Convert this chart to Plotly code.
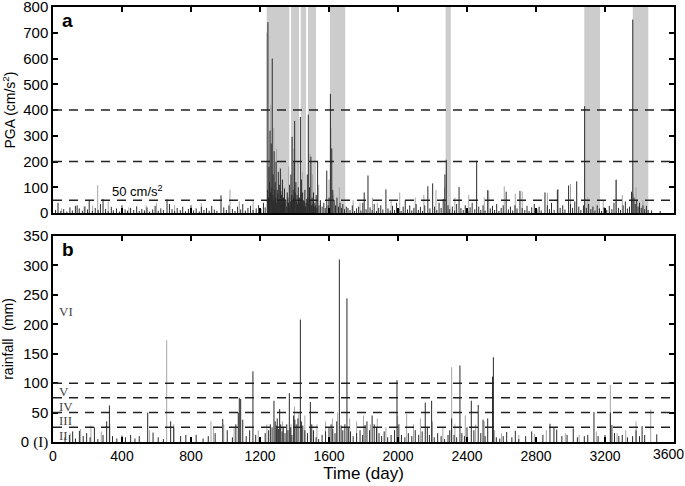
import plotly.graph_objects as go

# ---------------- data ----------------
time_ticks = [0, 400, 800, 1200, 1600, 2000, 2400, 2800, 3200, 3600]
time_ticktext = ["0", "400", "800", "1200", "1600", "2000", "2400", "2800", "3200", ""]
last_time_label = "3600"
pga_ticks = [0, 100, 200, 300, 400, 500, 600, 700, 800]
rain_ticks = [0, 50, 100, 150, 200, 250, 300, 350]
rain_ticktext = ["0 <span style='font-family:Liberation Serif'>(I)</span>", "50", "100", "150", "200", "250", "300", "350"]

pga_thresholds = [50, 200, 400]
rain_thresholds = [25, 50, 75, 100]
rain_classes = ["II", "III", "IV", "V", "VI"]
rain_class_y = [11, 36, 61, 86, 222]

# shaded periods (day start, day end)
shaded_periods = [(1239, 1370), (1380, 1426), (1436, 1467), (1478, 1525),
                  (1606, 1694), (2276, 2306), (3080, 3171), (3361, 3451)]

# PGA spikes (day, cm/s^2)
pga_dark = [
    (15, 12), (29, 40), (45, 8), (62, 15), (80, 6), (98, 22), (112, 10), (130, 28), (140, 30), (152, 18),
    (170, 9), (185, 26), (200, 14), (210, 51), (228, 8), (245, 20), (262, 12), (275, 35), (290, 55), (305, 16),
    (320, 7), (338, 24), (350, 11), (368, 18), (385, 6), (400, 30), (418, 14), (432, 9), (450, 20), (468, 12),
    (485, 26), (500, 8), (515, 16), (530, 10), (545, 22), (560, 6), (578, 14), (592, 28), (610, 9), (625, 18),
    (640, 12), (661, 53), (675, 35), (690, 15), (705, 8), (720, 20), (738, 11), (752, 25), (768, 7), (785, 16),
    (800, 30), (815, 10), (830, 18), (848, 6), (860, 24), (875, 12), (890, 20), (905, 9), (920, 28), (935, 14),
    (950, 8), (974, 69), (990, 22), (1005, 12), (1020, 30), (1040, 16), (1055, 8), (1070, 25), (1088, 14),
    (1100, 35), (1115, 10), (1130, 20), (1145, 28), (1160, 12), (1178, 18), (1192, 30), (1205, 15), (1220, 40),
    (1230, 22),
    (1244, 90), (1246, 741), (1249, 60), (1252, 180), (1255, 120), (1258, 320), (1262, 80), (1265, 270),
    (1268, 100), (1271, 600), (1274, 70), (1276, 150), (1279, 50), (1282, 240), (1285, 90), (1288, 120),
    (1291, 60), (1293, 200), (1297, 40), (1300, 90), (1303, 75), (1306, 160), (1309, 55), (1312, 110),
    (1315, 45), (1318, 173), (1321, 85), (1324, 70), (1327, 35), (1330, 130), (1333, 50), (1336, 60),
    (1339, 30), (1342, 95), (1346, 45), (1350, 50), (1355, 25), (1358, 80), (1362, 60), (1365, 40),
    (1369, 30), (1372, 110), (1376, 45), (1379, 150), (1383, 70), (1386, 296), (1389, 50), (1392, 90),
    (1395, 60), (1398, 200), (1401, 358), (1404, 80), (1408, 120), (1411, 45), (1415, 70), (1418, 35),
    (1422, 100), (1425, 55), (1428, 60), (1431, 40), (1434, 373), (1437, 75), (1440, 130), (1444, 50),
    (1447, 80), (1450, 30), (1453, 50), (1457, 45), (1460, 90), (1464, 25), (1467, 40), (1471, 55),
    (1474, 150), (1477, 60), (1480, 382), (1484, 40), (1487, 100), (1491, 50), (1495, 219), (1498, 30),
    (1502, 60), (1506, 35), (1510, 80), (1514, 25), (1518, 40), (1522, 30), (1526, 70), (1530, 20),
    (1534, 200), (1542, 30), (1550, 50), (1560, 25), (1570, 40), (1578, 20), (1587, 165), (1595, 30),
    (1600, 60), (1608, 463), (1616, 251), (1622, 90), (1630, 50), (1638, 30), (1646, 60), (1655, 25),
    (1664, 40), (1672, 20), (1680, 35), (1690, 15), (1700, 25),
    (1710, 20), (1722, 12), (1735, 30), (1748, 8), (1760, 18), (1772, 25), (1785, 10), (1796, 40), (1804, 80),
    (1815, 15), (1826, 146), (1838, 22), (1850, 12), (1862, 35), (1875, 8), (1888, 20), (1900, 30), (1912, 14),
    (1930, 92), (1942, 18), (1955, 10), (1968, 28), (1980, 12), (1992, 40), (2005, 16), (2018, 8), (2030, 25),
    (2042, 50), (2055, 14), (2068, 30), (2080, 10), (2092, 20), (2105, 35), (2118, 12), (2130, 24), (2142, 8),
    (2155, 30), (2173, 104), (2185, 18), (2201, 115), (2212, 25), (2225, 12), (2238, 40), (2250, 20), (2262, 55),
    (2272, 150), (2280, 207), (2290, 30), (2300, 15), (2315, 25), (2328, 10), (2340, 35), (2354, 101), (2365, 20),
    (2378, 12), (2390, 30), (2405, 8), (2418, 22), (2430, 40), (2445, 15), (2456, 203), (2468, 25), (2480, 12),
    (2493, 30), (2505, 10), (2520, 89), (2535, 18), (2548, 28), (2560, 12), (2572, 35), (2585, 8), (2598, 20),
    (2610, 30), (2627, 83), (2640, 14), (2652, 25), (2665, 10), (2678, 30), (2690, 18), (2707, 86), (2720, 20),
    (2735, 12), (2748, 28), (2760, 8), (2775, 22), (2790, 35), (2805, 14), (2818, 25), (2830, 10), (2852, 80),
    (2866, 30), (2878, 15), (2890, 40), (2905, 12), (2924, 91), (2940, 20), (2955, 30), (2968, 14), (2989, 107),
    (3000, 35), (3012, 20), (3025, 45), (3036, 123), (3048, 25), (3060, 12), (3075, 30), (3082, 415), (3092, 20),
    (3105, 35), (3118, 15), (3130, 25), (3142, 10), (3155, 30), (3168, 18), (3180, 8), (3195, 22), (3210, 12),
    (3225, 28), (3240, 15), (3252, 40), (3264, 129), (3278, 20), (3290, 12), (3305, 30), (3318, 45), (3330, 18),
    (3342, 25), (3354, 83), (3361, 751), (3368, 60), (3375, 35), (3384, 50), (3392, 25), (3400, 40), (3410, 20),
    (3420, 30), (3430, 15), (3440, 28), (3450, 12), (3470, 10), (3520, 8),
]
pga_light = [
    (50, 18), (180, 25), (230, 30), (259, 108), (320, 45), (440, 22), (540, 30), (600, 40), (705, 30),
    (860, 38), (1026, 91), (1080, 45), (1160, 50),
    (1240, 700), (1262, 420), (1280, 330), (1296, 250), (1320, 150), (1340, 100), (1366, 180), (1395, 250),
    (1420, 200), (1445, 160), (1490, 230), (1505, 150), (1540, 110), (1600, 130), (1612, 330), (1625, 70),
    (1660, 100),
    (1740, 50), (1780, 40), (1852, 60), (1880, 40), (1960, 50), (2010, 80), (2100, 60), (2150, 70), (2220, 90),
    (2270, 100), (2330, 60), (2410, 70), (2500, 60), (2526, 88), (2616, 104), (2680, 75), (2720, 84), (2866, 79),
    (2930, 92), (3000, 113), (3100, 60), (3190, 50), (3266, 130), (3300, 70), (3364, 75), (3380, 100), (3420, 50),
]

# rainfall spikes (day, mm)
rain_dark = [
    (70, 8), (95, 12), (114, 18), (130, 6), (153, 19), (175, 10), (195, 15), (215, 8), (240, 25), (260, 5),
    (290, 12), (311, 35), (327, 62), (345, 10), (370, 6), (400, 11), (420, 8), (450, 12), (475, 6), (500, 10),
    (549, 50), (580, 16), (610, 8), (640, 5), (682, 35), (700, 24), (740, 10), (770, 12), (800, 8), (830, 12),
    (870, 6), (900, 10), (940, 15), (984, 39), (1010, 20), (1040, 8), (1060, 30), (1074, 50), (1080, 75),
    (1088, 73), (1100, 38), (1120, 10), (1140, 20), (1159, 120), (1175, 12), (1200, 8), (1230, 15), (1250, 20),
    (1260, 30), (1270, 25), (1281, 70), (1288, 35), (1295, 28), (1300, 40), (1308, 22), (1314, 56), (1320, 30),
    (1328, 18), (1335, 25), (1345, 15), (1355, 30), (1362, 20), (1370, 83), (1378, 25), (1385, 12), (1395, 45),
    (1402, 38), (1410, 30), (1420, 40), (1434, 208), (1440, 35), (1448, 28), (1460, 20), (1475, 15), (1492, 68),
    (1500, 30), (1510, 20), (1525, 8), (1540, 5), (1560, 12), (1580, 18), (1600, 25), (1612, 30), (1622, 22),
    (1635, 15), (1645, 35), (1660, 310), (1670, 28), (1680, 20), (1692, 30), (1704, 244), (1712, 25), (1725, 18),
    (1740, 10), (1760, 15), (1780, 20), (1795, 12), (1809, 29), (1820, 35), (1835, 20), (1850, 45), (1862, 30),
    (1875, 25), (1890, 15), (1905, 10), (1920, 18), (1940, 8), (1960, 12), (1980, 20), (1994, 105), (2005, 30),
    (2020, 12), (2040, 8), (2060, 15), (2080, 10), (2100, 20), (2120, 12), (2140, 18), (2158, 67), (2170, 25),
    (2182, 12), (2195, 70), (2210, 8), (2230, 15), (2250, 10), (2270, 5), (2290, 12), (2300, 20), (2311, 40),
    (2325, 12), (2340, 8), (2359, 130), (2370, 15), (2385, 10), (2400, 25), (2425, 70), (2440, 20), (2465, 63),
    (2480, 15), (2493, 38), (2505, 10), (2520, 40), (2548, 111), (2553, 144), (2570, 8), (2590, 6), (2610, 10),
    (2630, 17), (2660, 8), (2680, 19), (2700, 5), (2740, 10), (2775, 18), (2800, 8), (2840, 12), (2881, 31),
    (2904, 24), (2920, 21), (2950, 10), (2980, 12), (3016, 23), (3040, 8), (3080, 10), (3100, 12), (3136, 51),
    (3160, 10), (3200, 12), (3231, 50), (3240, 29), (3255, 15), (3280, 10), (3300, 12), (3330, 8), (3360, 10),
    (3380, 20), (3400, 10), (3415, 27), (3430, 12), (3500, 13),
]
rain_light = [
    (100, 15), (160, 22), (220, 28), (280, 18), (330, 30), (560, 20), (659, 173), (700, 30), (916, 35), (930, 25),
    (990, 30), (1050, 25), (1190, 20), (1240, 30), (1300, 25), (1330, 35), (1380, 30), (1400, 60), (1425, 50),
    (1460, 45), (1530, 30), (1580, 35), (1620, 40), (1650, 50), (1720, 40), (1760, 35), (1800, 45), (1840, 30),
    (1880, 40), (1930, 25), (1998, 45), (2050, 48), (2090, 30), (2130, 40), (2200, 35), (2260, 25), (2311, 127),
    (2330, 30), (2390, 45), (2450, 30), (2500, 35), (2560, 20), (2600, 15), (2700, 12), (2790, 14), (2860, 20),
    (2970, 15), (3050, 12), (3150, 18), (3231, 97), (3270, 15), (3320, 20), (3380, 35), (3465, 55),
]


def stems(pairs):
    xs, ys = [], []
    for d, v in pairs:
        xs += [d, d, None]
        ys += [0, v, None]
    return xs, ys


DARK = "#2a2a2a"
LIGHT = "#a6a6a6"
FONT = "Liberation Sans"

fig = go.Figure()
for pairs, color, xa, ya in [(pga_light, LIGHT, "x", "y"), (pga_dark, DARK, "x", "y"),
                             (rain_light, LIGHT, "x2", "y2"), (rain_dark, DARK, "x2", "y2")]:
    xs, ys = stems(pairs)
    fig.add_trace(go.Scatter(x=xs, y=ys, mode="lines", line=dict(color=color, width=1),
                             xaxis=xa, yaxis=ya, hoverinfo="skip", showlegend=False))

shapes = []
for d0, d1 in shaded_periods:
    shapes.append(dict(type="rect", xref="x", yref="y domain", x0=d0, x1=d1, y0=0, y1=1,
                       fillcolor="#cccccc", line=dict(width=0), layer="below"))
for t in pga_thresholds:
    shapes.append(dict(type="line", xref="x domain", yref="y", x0=0, x1=1, y0=t, y1=t,
                       line=dict(color="#222222", width=1.5, dash="9px,7px"), layer="above"))
for t in rain_thresholds:
    shapes.append(dict(type="line", xref="x2 domain", yref="y2", x0=0, x1=1, y0=t, y1=t,
                       line=dict(color="#222222", width=1.5, dash="9px,7px"), layer="above"))

annotations = [
    dict(text="<b>a</b>", xref="x domain", yref="y domain", x=0.012, y=0.995, xanchor="left", yanchor="top",
         showarrow=False, font=dict(family=FONT, size=19, color="black")),
    dict(text="<b>b</b>", xref="x2 domain", yref="y2 domain", x=0.012, y=0.995, xanchor="left", yanchor="top",
         showarrow=False, font=dict(family=FONT, size=19, color="black")),
    dict(text="50 cm/s<sup>2</sup>", xref="x", yref="y", x=490, y=87, showarrow=False,
         font=dict(family=FONT, size=13, color="black")),
    dict(text=last_time_label, xref="x2", yref="y2 domain", x=3600, y=0, xanchor="right", yanchor="top",
         xshift=12, yshift=-2, showarrow=False, font=dict(family=FONT, size=14, color="black")),
]
for lab, yv in zip(rain_classes, rain_class_y):
    annotations.append(dict(text=lab, xref="x2", yref="y2", x=22, y=yv, xanchor="left", showarrow=False,
                            font=dict(family="Liberation Serif", size=13, color="#444444")))

axis_common = dict(showgrid=False, zeroline=False, showline=True, linecolor="black", linewidth=1.5,
                   mirror="ticks", ticks="inside", ticklen=5, tickwidth=1.5, tickcolor="black",
                   automargin=False, ticklabeloverflow="allow")

fig.update_layout(
    width=685, height=486,
    margin=dict(l=53, r=11, t=7, b=44),
    paper_bgcolor="white", plot_bgcolor="white",
    font=dict(family=FONT, size=13, color="black"),
    shapes=shapes, annotations=annotations,
    xaxis=dict(domain=[0, 1], range=[0, 3600], tickvals=time_ticks, showticklabels=False, anchor="y",
               **axis_common),
    yaxis=dict(domain=[0.5263, 1], range=[0, 800], tickvals=pga_ticks, anchor="x",
               tickfont=dict(family=FONT, size=15, color="black"),
               title=dict(text="PGA (cm/s<sup>2</sup>)", font=dict(family=FONT, size=14), standoff=6),
               **axis_common),
    xaxis2=dict(domain=[0, 1], range=[0, 3600], tickvals=time_ticks, ticktext=time_ticktext, anchor="y2",
                tickfont=dict(family=FONT, size=14, color="black"),
                title=dict(text="Time (day)", font=dict(family=FONT, size=17), standoff=4),
                **axis_common),
    yaxis2=dict(domain=[0, 0.4737], range=[0, 350], tickvals=rain_ticks, ticktext=rain_ticktext, anchor="x2",
                tickfont=dict(family=FONT, size=15, color="black"),
                title=dict(text="rainfall  (mm)", font=dict(family=FONT, size=14), standoff=6),
                **axis_common),
)

fig.write_html("out.html", config={"displayModeBar": False},
               post_script="document.body.style.margin='0';document.body.style.overflow='hidden';")
